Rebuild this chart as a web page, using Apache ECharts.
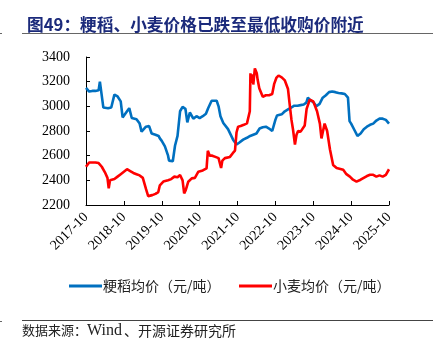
<!DOCTYPE html>
<html>
<head>
<meta charset="utf-8">
<script src="https://cdn.jsdelivr.net/npm/echarts@6/dist/echarts.min.js"></script>
<style>html,body{margin:0;padding:0;background:#fff}#c{width:439px;height:340px}</style>
</head>
<body>
<div id="c"></div>
<script>
// months since 2017-10
const yearTicks = ['2017-10','2018-10','2019-10','2020-10','2021-10','2022-10','2023-10','2024-10','2025-10'];
const riceX = [0,0.5,1,2,3,4,4.4,4.9,5.5,6,7,8,9,10,11,11.6,12,13,13.7,14.5,15,16,17,17.6,18,19,20,20.8,22,23,23.4,24,25,26,26.3,27.5,28.2,29,29.8,30.6,31.5,32.1,32.9,34,35,36,37,38,38.7,39.8,41.4,42,42.6,43.5,45,46.6,47.7,48.5,49.8,51,52,53,54,55,56,57,58,59,59.5,60,60.5,61,62,63,64,65,66,67,68,69,69.8,70.3,71,72,73,74,75,76,77,78,79,80,81,82,83,83.5,84,85,86,87,88,89,90,91,92,93,94,95,96];
const riceY = [3150,3150,3120,3125,3125,3130,3200,3190,2990,2985,2985,2990,3095,3080,3040,2910,2910,2960,2985,2905,2905,2895,2860,2795,2800,2835,2840,2780,2770,2760,2740,2720,2675,2600,2560,2555,2680,2760,2960,2995,2980,2870,2950,2900,2920,2905,2920,2940,2985,3045,3045,3000,2920,2865,2815,2730,2690,2705,2730,2745,2760,2770,2780,2820,2830,2835,2820,2800,2790,2890,2925,2920,2935,2960,2975,2990,3005,3005,3010,3015,3030,3070,3050,3035,3000,3020,3070,3090,3115,3120,3115,3108,3105,3100,3070,2880,2860,2810,2760,2780,2815,2835,2850,2860,2885,2900,2900,2890,2860];
const wheatX = [0,1,2,3,4,5,6,6.8,7.2,7.6,8,9,10,11,12,13,14,15,16,17,18,19,19.7,21,22,22.9,23.4,24.5,26,27,28,29,29.8,30.6,31.1,31.6,32.4,33.5,34.5,35.6,37,38.2,38.6,39.2,40,41,42,42.8,43.2,44,45.6,46.5,47.2,47.7,48.2,49,50,51,51.9,52.1,52.4,52.8,53,53.5,54.1,54.4,54.9,55.3,56,57,58,59,59.6,60.3,61,62,63,64,64.6,65.1,65.6,66.2,66.7,67.2,68,69.3,69.9,70.9,72,73.2,74.1,74.6,75.6,76.4,77.3,78.3,79.4,80,81.5,82.5,83.6,84.6,85.7,87,88,89,90,91,92,93,94,95,96];
const wheatY = [2510,2545,2545,2545,2540,2510,2465,2420,2335,2400,2400,2410,2430,2450,2470,2490,2475,2460,2450,2440,2420,2330,2272,2280,2290,2305,2360,2390,2400,2410,2430,2425,2443,2400,2295,2320,2389,2416,2420,2470,2480,2497,2640,2600,2600,2590,2580,2500,2560,2580,2590,2620,2640,2790,2835,2840,2850,2862,2960,3268,3190,3260,3177,3308,3268,3213,3146,3140,3078,3090,3090,3100,3180,3230,3250,3235,3210,3140,3000,2890,2810,2690,2770,2800,2795,2845,2980,3055,3040,2960,2860,2740,2860,2800,2650,2525,2500,2495,2485,2450,2430,2405,2390,2405,2420,2435,2445,2445,2430,2440,2430,2445,2490];

const seriesNames = ['粳稻均价（元/吨）', '小麦均价（元/吨）'];
const pair = (xs, ys) => xs.map((x, i) => [x, ys[i]]);
const SERIF = '"Liberation Serif", "Times New Roman", serif';
const CJK = '"Noto Sans CJK SC", sans-serif';
const legendBase = {
  top: 274, itemWidth: 33, itemHeight: 3,
  textStyle: {fontSize: 14, color: '#222', fontFamily: CJK, padding: [0, 0, 0, -4]}
};

const chart = echarts.init(document.getElementById('c'));
chart.setOption({
  animation: false,
  backgroundColor: '#fff',
  title: {
    text: '图49：粳稻、小麦价格已跌至最低收购价附近',
    left: 22, top: 11,
    textStyle: {fontSize: 16.7, fontWeight: 'bold', color: '#1B2A7B', fontFamily: CJK}
  },
  grid: {left: 86, right: 50, top: 57, bottom: 135},
  xAxis: {
    type: 'value', min: 0, max: 96, interval: 12,
    axisLine: {show: true, lineStyle: {color: '#000', width: 1}},
    axisTick: {show: true, inside: true, length: 4, lineStyle: {color: '#000'}},
    splitLine: {show: false},
    axisLabel: {
      rotate: 45, margin: 10, color: '#000', fontSize: 14, fontFamily: SERIF,
      formatter: v => yearTicks[Math.round(v / 12)]
    }
  },
  yAxis: {
    type: 'value', min: 2200, max: 3400, interval: 200,
    axisLine: {show: true, lineStyle: {color: '#000', width: 1}},
    axisTick: {show: true, inside: true, length: 4, lineStyle: {color: '#000'}},
    splitLine: {show: false},
    axisLabel: {margin: 16, color: '#000', fontSize: 14, fontFamily: SERIF, formatter: v => String(v)}
  },
  legend: [
    Object.assign({left: 64, data: [{name: seriesNames[0], icon: 'rect'}]}, legendBase),
    Object.assign({left: 234, data: [{name: seriesNames[1], icon: 'rect'}]}, legendBase)
  ],
  series: [
    {name: seriesNames[0], type: 'line', data: pair(riceX, riceY), showSymbol: false,
     lineStyle: {color: '#0070C0', width: 2.6}, itemStyle: {color: '#0070C0'}},
    {name: seriesNames[1], type: 'line', data: pair(wheatX, wheatY), showSymbol: false,
     lineStyle: {color: '#FF0000', width: 2.6}, itemStyle: {color: '#FF0000'}}
  ],
  graphic: [
    {type: 'line', shape: {x1: 22, y1: 33.5, x2: 433, y2: 33.5}, style: {stroke: '#666', lineWidth: 1}},
    {type: 'line', shape: {x1: 22, y1: 320.5, x2: 433, y2: 320.5}, style: {stroke: '#444', lineWidth: 1}},
    {type: 'line', shape: {x1: 0, y1: 33.5, x2: 2, y2: 33.5}, style: {stroke: '#666', lineWidth: 1}},
    {type: 'line', shape: {x1: 0, y1: 321.5, x2: 2, y2: 321.5}, style: {stroke: '#666', lineWidth: 1}},
    {type: 'text', left: 22, top: 324,
     style: {text: '数据来源：', fontSize: 13, fill: '#222', fontFamily: CJK}},
    {type: 'text', left: 87, top: 323,
     style: {text: 'Wind', fontSize: 16, fill: '#222', fontFamily: SERIF}},
    {type: 'text', left: 124, top: 324,
     style: {text: '、开源证券研究所', fontSize: 14, fill: '#222', fontFamily: CJK}}
  ]
});
</script>
</body>
</html>
